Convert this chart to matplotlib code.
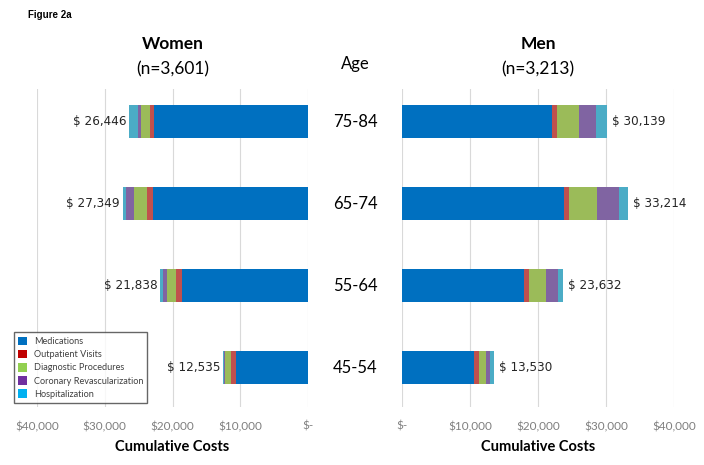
import numpy as np
import matplotlib
matplotlib.use('Agg')
import matplotlib.pyplot as plt
from matplotlib import font_manager
from matplotlib.patches import Patch
from matplotlib.ticker import FuncFormatter

# age groups, bottom to top
ages = ['45-54', '55-64', '65-74', '75-84']
categories = ['Medications', 'Outpatient Visits', 'Diagnostic Procedures',
              'Coronary Revascularization', 'Hospitalization']

# cumulative costs per category ($), one value per age group
women_med = [10690, 18580, 22950, 22700]
women_out = [700, 880, 800, 600]
women_diag = [800, 1380, 1950, 1350]
women_cor = [200, 590, 1100, 450]
women_hosp = [145, 408, 549, 1346]
women_total = [12535, 21838, 27349, 26446]

men_med = [10600, 18000, 23750, 22100]
men_out = [700, 650, 850, 750]
men_diag = [1100, 2500, 4050, 3250]
men_cor = [600, 1850, 3300, 2500]
men_hosp = [530, 632, 1264, 1539]
men_total = [13530, 23632, 33214, 30139]

bar_colors = ['#0070C0', '#C0504D', '#9BBB59', '#8064A2', '#4BACC6']
legend_colors = ['#0070C0', '#C00000', '#92D050', '#7030A0', '#00B0F0']

W, H = 704, 465
fig = plt.figure(figsize=(W / 100, H / 100), dpi=100)

def px_x(x):
    return x / W

def px_y(y):
    return 1 - y / H

title_font = 'Lato'

# narrow font for the value labels, if one is around
names = {f.name for f in font_manager.fontManager.ttflist}
if 'Liberation Sans Narrow' in names:
    val_kw = dict(family='Liberation Sans Narrow', fontsize=11.5)
else:
    val_kw = dict(family='DejaVu Sans', fontstretch='condensed', fontsize=9.6)

ax_l = fig.add_axes([px_x(37), px_y(407), px_x(308 - 37), (407 - 89) / H])
ax_r = fig.add_axes([px_x(402), px_y(407), px_x(674 - 402), (407 - 89) / H])

def money(v, pos=None):
    return '$-' if v == 0 else f'${v:,.0f}'

y = np.arange(len(ages))
for ax, series, totals, side in [
        (ax_l, [women_med, women_out, women_diag, women_cor, women_hosp], women_total, 'left'),
        (ax_r, [men_med, men_out, men_diag, men_cor, men_hosp], men_total, 'right')]:
    left = np.zeros(len(ages))
    for vals, c in zip(series, bar_colors):
        ax.barh(y, vals, left=left, height=0.4, color=c, zorder=3)
        left += np.array(vals)
    for yi, tot, end in zip(y, totals, left):
        off, ha = ((-2, 'right') if side == 'left' else (3.5, 'left'))
        ax.annotate(f'$ {tot:,}', (end, yi), xytext=(off, 0), textcoords='offset points',
                    ha=ha, va='center', color='#262626', **val_kw)
    ax.set_xlim(0, 40000)
    ax.set_ylim(-0.476, 3.396)
    ax.set_xticks([0, 10000, 20000, 30000, 40000])
    ax.xaxis.set_major_formatter(FuncFormatter(money))
    ax.tick_params(axis='x', length=0, pad=10, labelsize=8.5, labelcolor='#7F7F7F')
    ax.set_yticks([])
    for lab in ax.get_xticklabels():
        lab.set_family(title_font)
    ax.grid(axis='x', color='#D9D9D9', lw=0.8, zorder=0)
    for s in ax.spines.values():
        s.set_visible(False)
    ax.set_xlabel('Cumulative Costs', fontsize=10.5, fontweight='bold',
                  family=title_font, labelpad=6)

ax_l.invert_xaxis()

# titles
fig.text(px_x(172.5), px_y(44), 'Women', ha='center', va='center',
         fontsize=12.5, fontweight='bold', family=title_font)
fig.text(px_x(172.5), px_y(69), '(n=3,601)', ha='center', va='center',
         fontsize=12.5, family=title_font)
fig.text(px_x(538), px_y(44), 'Men', ha='center', va='center',
         fontsize=12.5, fontweight='bold', family=title_font)
fig.text(px_x(538), px_y(69), '(n=3,213)', ha='center', va='center',
         fontsize=12.5, family=title_font)
fig.text(px_x(355), px_y(64), 'Age', ha='center', va='center',
         fontsize=12, family=title_font)
fig.text(px_x(28), px_y(15), 'Figure 2a', ha='left', va='center',
         fontsize=7, fontweight='bold', family='Liberation Sans')

# age labels in the middle, aligned with the bars
for yi, a in zip(y, ages):
    yd = ax_l.transData.transform((0, yi))[1]
    yf = fig.transFigure.inverted().transform((0, yd))[1]
    fig.text(px_x(355), yf, a, ha='center', va='center', fontsize=12, family=title_font)

handles = [Patch(facecolor=c, edgecolor='none') for c in legend_colors]
leg = fig.legend(handles, categories, loc='lower left',
                 bbox_to_anchor=(px_x(14), px_y(403)),
                 frameon=True, fancybox=False, edgecolor='#404040',
                 handlelength=1.0, handleheight=1.05, handletextpad=0.7,
                 labelspacing=0.42, borderpad=0.45, borderaxespad=0,
                 prop={'family': title_font, 'size': 6.6})
leg.get_frame().set_linewidth(1.0)
for t in leg.get_texts():
    t.set_color('#404040')

fig.savefig('out.png', dpi=100)
